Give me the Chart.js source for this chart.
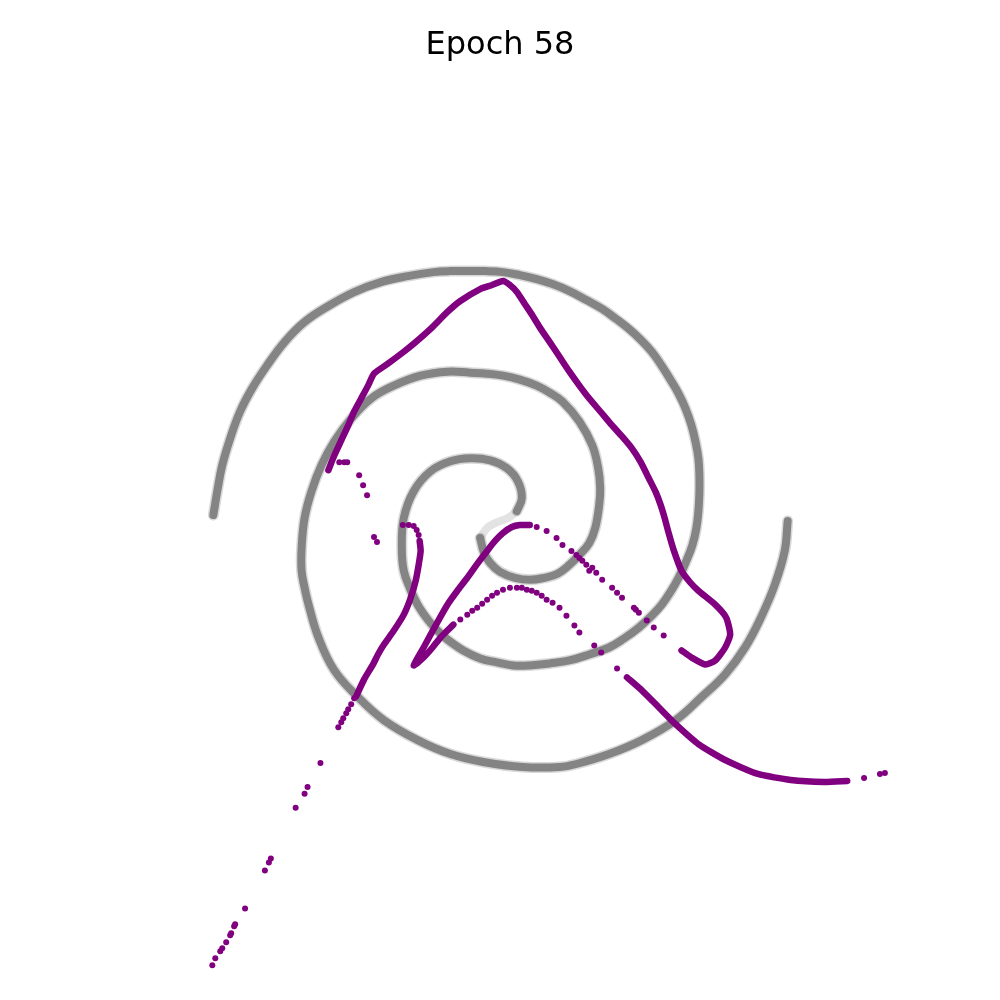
<!DOCTYPE html>
<html>
<head>
<meta charset="utf-8">
<script src="https://cdn.jsdelivr.net/npm/chart.js@4.4.1/dist/chart.umd.min.js"></script>
<style>
  html, body { margin: 0; padding: 0; background: #ffffff; }
  #wrap { width: 1000px; height: 1000px; position: relative; }
</style>
</head>
<body>
<div id="wrap"><canvas id="c"></canvas></div>
<script>
// ---------- data (units: spiral centre at 0,0) ----------
const titleText = 'Epoch 58';

// gray spiral, arm A (from centre outwards)
const spiralArmAx = [0.17,0.22,0.18,0.07,-0.10,-0.30,-0.50,-0.70,-0.87,-0.97,-0.99,-0.97,-0.91,-0.83,-0.72,-0.63,-0.53,-0.37,-0.20,-0.03,0.13,0.30,0.50,0.70,0.90,1.10,1.25,1.40,1.53,1.63,1.72,1.80,1.87,1.94,1.98,2.00,2.01,2.01,2.00,1.97,1.93,1.87,1.80,1.73,1.63,1.53,1.42,1.30,1.17,1.03,0.87,0.70,0.53,0.37,0.20,0.03,-0.15,-0.33,-0.50,-0.67,-0.93,-1.20,-1.47,-1.73,-1.97,-2.17,-2.35,-2.50,-2.62,-2.72,-2.80,-2.85,-2.89];
const spiralArmAy = [0.12,0.25,0.42,0.55,0.63,0.65,0.62,0.52,0.32,0.05,-0.25,-0.48,-0.65,-0.82,-0.98,-1.08,-1.17,-1.28,-1.36,-1.40,-1.43,-1.43,-1.41,-1.38,-1.32,-1.25,-1.16,-1.05,-0.93,-0.82,-0.69,-0.55,-0.40,-0.22,-0.05,0.12,0.30,0.48,0.65,0.82,0.98,1.15,1.30,1.42,1.58,1.72,1.84,1.95,2.05,2.15,2.24,2.33,2.40,2.45,2.49,2.52,2.53,2.53,2.53,2.52,2.48,2.42,2.32,2.18,2.02,1.82,1.58,1.35,1.12,0.85,0.58,0.32,0.08];

// gray spiral, arm B (from centre outwards)
const spiralArmBx = [-0.20,-0.16,-0.10,0.00,0.15,0.30,0.45,0.58,0.70,0.80,0.90,0.96,1.00,1.01,0.99,0.93,0.80,0.63,0.50,0.37,0.20,0.03,-0.13,-0.30,-0.53,-0.80,-1.07,-1.30,-1.50,-1.67,-1.80,-1.90,-1.97,-2.00,-2.00,-1.97,-1.93,-1.83,-1.67,-1.43,-1.17,-0.83,-0.50,-0.17,0.23,0.60,0.77,1.10,1.43,1.77,2.03,2.27,2.47,2.63,2.77,2.87,2.90];
const spiralArmBy = [-0.15,-0.30,-0.40,-0.49,-0.55,-0.57,-0.55,-0.51,-0.42,-0.32,-0.20,-0.05,0.18,0.35,0.55,0.78,1.02,1.22,1.31,1.38,1.44,1.48,1.50,1.51,1.52,1.48,1.38,1.25,1.05,0.82,0.58,0.32,0.05,-0.25,-0.48,-0.65,-0.82,-1.15,-1.48,-1.75,-1.98,-2.18,-2.32,-2.40,-2.45,-2.45,-2.42,-2.32,-2.18,-1.98,-1.75,-1.52,-1.25,-0.95,-0.62,-0.28,0.02];

// faint centre of the spiral
const spiralCoreX = [0.17,0.08,-0.05,-0.13,-0.20];
const spiralCoreY = [0.12,0.05,0.00,-0.05,-0.15];

// purple: big loop (dense)
const loopX = [-1.73,-1.67,-1.60,-1.53,-1.47,-1.40,-1.33,-1.27,-1.13,-0.97,-0.87,-0.70,-0.53,-0.40,-0.20,-0.08,0.03,0.10,0.17,0.25,0.33,0.41,0.50,0.60,0.70,0.80,0.90,1.02,1.13,1.23,1.33,1.42,1.50,1.57,1.62,1.66,1.70,1.75,1.83,1.92,2.00,2.17,2.28,2.32,2.27,2.17,2.07,1.93,1.83];
const loopY = [0.53,0.68,0.83,0.98,1.12,1.25,1.38,1.50,1.60,1.72,1.80,1.95,2.12,2.23,2.35,2.39,2.43,2.39,2.32,2.20,2.08,1.95,1.82,1.67,1.52,1.38,1.25,1.11,0.98,0.87,0.75,0.61,0.45,0.31,0.18,0.05,-0.10,-0.27,-0.48,-0.60,-0.68,-0.82,-0.95,-1.12,-1.25,-1.38,-1.42,-1.35,-1.28];

// purple: inner V shape (dense)
const vShapeX = [-0.47,-0.53,-0.60,-0.68,-0.77,-0.87,-0.77,-0.65,-0.53,-0.43,-0.33,-0.23,-0.13,-0.05,0.03,0.12,0.20,0.30];
const vShapeY = [-1.02,-1.08,-1.15,-1.25,-1.35,-1.43,-1.25,-1.03,-0.82,-0.68,-0.55,-0.41,-0.28,-0.18,-0.10,-0.04,-0.02,-0.02];

// purple: lower-right tail (dense)
const tailRX = [1.28,1.43,1.60,1.77,2.00,2.27,2.60,2.93,3.27,3.50];
const tailRY = [-1.55,-1.68,-1.85,-2.02,-2.22,-2.38,-2.52,-2.58,-2.60,-2.59];

// purple: left stem (dense)
const stemX = [-1.45,-1.37,-1.28,-1.23,-1.17,-1.07,-0.97,-0.90,-0.85,-0.82,-0.80,-0.81];
const stemY = [-1.74,-1.57,-1.42,-1.32,-1.22,-1.08,-0.92,-0.75,-0.58,-0.42,-0.28,-0.18];

// purple: scattered samples
const dotsX = [
  -2.90,-2.87,-2.82,-2.80,-2.76,-2.72,-2.71,-2.68,-2.67,-2.57,-2.37,-2.33,-2.31,-2.06,-1.97,-1.94,-1.81,-1.63,-1.60,-1.58,-1.55,-1.53,-1.50,-1.47,
  -0.98,-0.92,-0.87,-0.84,-0.82,-1.27,-1.24,-1.42,-1.38,-1.34,-1.62,-1.57,-1.54,
  0.37,0.47,0.57,0.63,0.72,0.77,0.80,0.83,0.87,0.90,0.93,0.97,1.03,1.13,1.18,1.23,1.35,1.37,1.40,1.48,1.55,1.65,
  -0.40,-0.33,-0.28,-0.23,-0.18,-0.13,-0.08,-0.03,0.03,0.10,0.17,0.22,0.27,0.32,0.37,0.42,0.47,0.53,0.60,0.67,0.75,0.80,0.95,1.02,1.18,
  3.67,3.83,3.88
];
const dotsY = [
  -4.44,-4.37,-4.30,-4.27,-4.21,-4.14,-4.12,-4.05,-4.03,-3.87,-3.49,-3.41,-3.37,-2.86,-2.72,-2.65,-2.41,-2.05,-2.00,-1.96,-1.91,-1.87,-1.82,-1.76,
  -0.02,-0.02,-0.03,-0.07,-0.12,-0.14,-0.19,0.48,0.38,0.28,0.61,0.61,0.61,
  -0.04,-0.08,-0.15,-0.22,-0.28,-0.32,-0.35,-0.38,-0.42,-0.48,-0.45,-0.50,-0.57,-0.65,-0.70,-0.75,-0.85,-0.87,-0.90,-0.98,-1.05,-1.13,
  -0.97,-0.92,-0.88,-0.85,-0.81,-0.77,-0.73,-0.70,-0.67,-0.65,-0.65,-0.65,-0.67,-0.68,-0.70,-0.73,-0.77,-0.80,-0.85,-0.93,-1.03,-1.10,-1.23,-1.30,-1.46,
  -2.56,-2.52,-2.51
];

// ---------- build ----------
const zip = (xs, ys) => xs.map((x, i) => ({ x: x, y: ys[i] }));
const GRAY = 'rgba(128,128,128,0.95)';
const GRAY_SOFT = 'rgba(128,128,128,0.3)';
const PURPLE = '#800080';

function grayLine(data, color, width) {
  return { data: data, showLine: true, pointRadius: 0, borderColor: color, borderWidth: width,
           tension: 0.4, cubicInterpolationMode: 'default',
           borderCapStyle: 'round', borderJoinStyle: 'round', order: 3 };
}
function purpleLine(data) {
  return { data: data, showLine: true, pointRadius: 0, borderColor: PURPLE, borderWidth: 6.5,
           tension: 0.2, borderCapStyle: 'round', borderJoinStyle: 'round', order: 1 };
}

const datasets = [
  purpleLine(zip(loopX, loopY)),
  purpleLine(zip(vShapeX, vShapeY)),
  purpleLine(zip(tailRX, tailRY)),
  purpleLine(zip(stemX, stemY)),
  { data: zip(dotsX, dotsY), pointRadius: 3, pointBackgroundColor: PURPLE, pointBorderWidth: 0, showLine: false, order: 1 },
  grayLine(zip(spiralArmAx, spiralArmAy), GRAY_SOFT, 11),
  grayLine(zip(spiralArmBx, spiralArmBy), GRAY_SOFT, 11),
  grayLine(zip(spiralArmAx, spiralArmAy), GRAY, 8),
  grayLine(zip(spiralArmBx, spiralArmBy), GRAY, 8),
  grayLine(zip(spiralCoreX, spiralCoreY), 'rgba(128,128,128,0.22)', 8)
];

// title box height = padding.top + fontSize*1.2 ; chart area spans the rest
const TITLE_SIZE = 32, TITLE_PAD = 26;
const titleBox = TITLE_PAD + TITLE_SIZE * 1.2;
const yMin = -4.75;
const yMax = yMin + (1000 - titleBox) / 100;

new Chart(document.getElementById('c'), {
  type: 'scatter',
  data: { datasets: datasets },
  options: {
    responsive: true,
    maintainAspectRatio: false,
    animation: false,
    layout: { padding: 0 },
    plugins: {
      legend: { display: false },
      tooltip: { enabled: false },
      title: {
        display: true,
        text: titleText,
        color: '#000000',
        font: { family: 'DejaVu Sans', size: TITLE_SIZE, weight: 'normal' },
        padding: { top: TITLE_PAD, bottom: 0 }
      }
    },
    scales: {
      x: { type: 'linear', display: false, min: -5, max: 5 },
      y: { type: 'linear', display: false, min: yMin, max: yMax }
    }
  }
});
</script>
</body>
</html>
